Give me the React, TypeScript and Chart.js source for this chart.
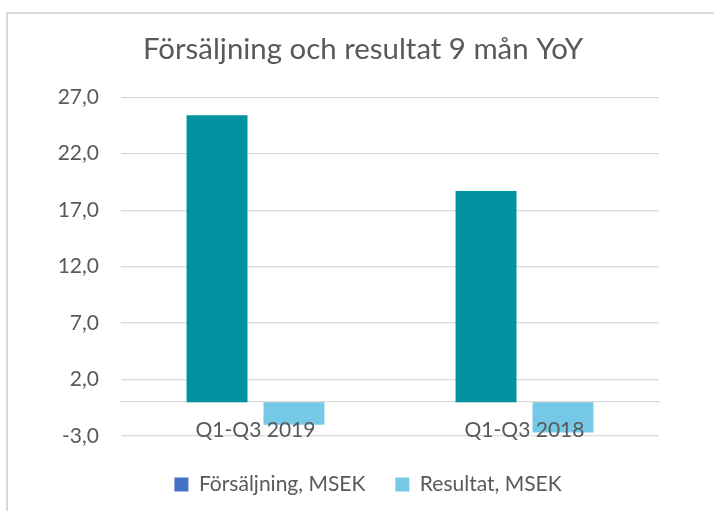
import React, { useEffect, useRef } from 'react';
import { Chart, registerables } from 'chart.js';

Chart.register(...registerables);

const chartTitle = 'Försäljning och resultat 9 mån YoY';
const categories = ['Q1-Q3 2019', 'Q1-Q3 2018'];
const seriesNames = ['Försäljning, MSEK', 'Resultat, MSEK'];
const salesValues = [25.4, 18.7];
const resultValues = [-2.0, -2.7];
const yTickValues = [-3, 2, 7, 12, 17, 22, 27];
const barColors = ['#00939F', '#75C9E7'];
const legendColors = ['#4472C4', '#75C9E7'];

const TEXT = '#595959';
const GRID = '#d9d9d9';
const FONT = 'Lato, "Open Sans", sans-serif';

const spacer = (w: number, h: number, pos: string) => ({
  type: 'linear',
  position: pos,
  display: true,
  grid: { display: false },
  border: { display: false },
  ticks: { display: false },
  afterFit: (s: any) => {
    if (w) s.width = w;
    if (h) s.height = h;
  },
});

const legendShift = {
  id: 'legendShift',
  afterLayout(chart: any) {
    if (chart.legend) {
      chart.legend.left += 5;
      chart.legend.right += 5;
    }
  },
};

export default function App() {
  const ref = useRef<HTMLCanvasElement>(null);

  useEffect(() => {
    let chart: Chart | null = null;
    let cancelled = false;
    const make = () => {
      if (cancelled || !ref.current) return;
      chart = new Chart(ref.current, {
        type: 'bar',
        plugins: [legendShift],
        data: {
          labels: categories,
          datasets: [
            {
              label: seriesNames[0],
              data: salesValues,
              backgroundColor: barColors[0],
              categoryPercentage: 0.572,
              barPercentage: 0.792,
              xAxisID: 'x',
              yAxisID: 'y',
            },
            {
              label: seriesNames[1],
              data: resultValues,
              backgroundColor: barColors[1],
              categoryPercentage: 0.572,
              barPercentage: 0.792,
              xAxisID: 'x',
              yAxisID: 'y',
            },
          ],
        },
        options: {
          animation: false,
          responsive: false,
          events: [],
          font: { family: FONT },
          layout: { padding: { left: 0, right: 0, top: 0, bottom: 6 } },
          plugins: {
            title: {
              display: true,
              text: chartTitle,
              color: TEXT,
              font: { family: FONT, size: 29.4, weight: 'normal' },
              padding: { top: 32, bottom: 30 },
            },
            legend: {
              position: 'bottom',
              labels: {
                color: TEXT,
                font: { family: FONT, size: 21 },
                boxWidth: 14,
                boxHeight: 14,
                padding: 30,
                generateLabels: () =>
                  seriesNames.map((text, i) => ({
                    text,
                    fillStyle: legendColors[i],
                    strokeStyle: legendColors[i],
                    lineWidth: 0,
                    hidden: false,
                    datasetIndex: i,
                    fontColor: TEXT,
                  })),
              },
            },
            tooltip: { enabled: false },
          },
          scales: {
            x: {
              position: { y: 0 } as any,
              grid: { display: false },
              border: { display: true, color: GRID, width: 1.3 },
              ticks: { color: TEXT, font: { family: FONT, size: 21 }, padding: 8, z: 1 },
            },
            y: {
              position: 'left',
              min: yTickValues[0],
              max: yTickValues[yTickValues.length - 1],
              afterBuildTicks: (s: any) => {
                s.ticks = yTickValues.map((v) => ({ value: v }));
              },
              afterFit: (s: any) => {
                s.width = 121;
              },
              grid: { color: GRID, lineWidth: 1.3, drawTicks: false },
              border: { display: false },
              ticks: {
                color: TEXT,
                font: { family: FONT, size: 21 },
                padding: 22,
                callback: (v: any) => Number(v).toFixed(1).replace('.', ','),
              },
            },
            yRightSpace: spacer(67, 0, 'right') as any,
            xBottomSpace: spacer(0, 8, 'bottom') as any,
          },
        },
      });
    };
    if ((document as any).fonts && (document as any).fonts.load) {
      (document as any).fonts.load('21px Lato').then(make, make);
    } else {
      make();
    }
    return () => {
      cancelled = true;
      if (chart) chart.destroy();
    };
  }, []);

  return (
    <div style={{ position: 'fixed', left: 0, top: 0, width: 714, height: 511, background: '#fff', overflow: 'hidden' }}>
      <div
        style={{
          position: 'absolute',
          left: 6,
          top: 12,
          width: 730,
          height: 530,
          border: `2px solid ${GRID}`,
          boxSizing: 'border-box',
        }}
      />
      <canvas ref={ref} width={726} height={511} style={{ position: 'absolute', left: 0, top: 0, width: 726, height: 511 }} />
    </div>
  );
}
